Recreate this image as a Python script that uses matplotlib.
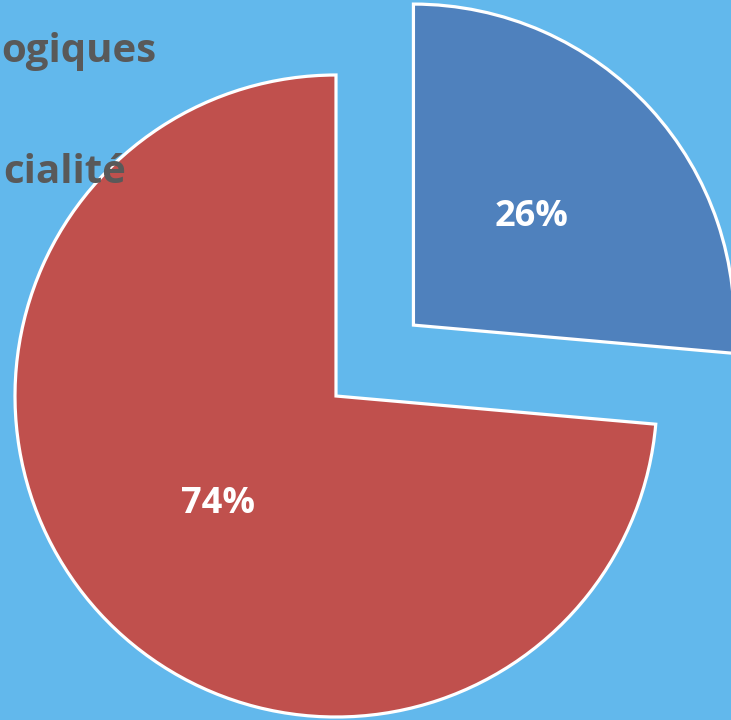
import matplotlib

matplotlib.use("Agg")
import matplotlib.pyplot as plt  # noqa: E402

# data
shares = [26.4, 73.6]
colors = ["#4f81bd", "#c0504d"]
explode = [105, 0]  # matplotlib shifts by this many data units
legend_fragments = ["ogiques", "cialité"]

BG = "#62b8ec"
W, H = 731, 720

fig = plt.figure(figsize=(W / 100, H / 100), dpi=100, facecolor=BG)
ax = fig.add_axes([0, 0, 1, 1])
ax.set_facecolor(BG)

# pixel-like data coords (y up); pie centre at (336, 396) from the top
wedges, _, autotexts = ax.pie(
    shares,
    colors=colors,
    explode=explode,
    startangle=90,
    counterclock=False,
    radius=321,
    center=(336, H - 396),
    autopct="%.0f%%",
    pctdistance=0.5,
    wedgeprops=dict(edgecolor="white", linewidth=2.3),
    textprops=dict(color="white", fontsize=26, fontweight="bold",
                   family=["Open Sans", "DejaVu Sans"]),
)
ax.set_xlim(0, W)
ax.set_ylim(0, H)
ax.set_aspect("equal")
ax.axis("off")

# legend text, cut off by the left edge of the picture in the original
for txt, (x, y) in zip(legend_fragments, [(156, 62), (126, 183)]):
    fig.text(x / W, 1 - y / H, txt, ha="right", va="baseline",
             fontsize=29, fontweight="bold", color="#595959",
             family=["Open Sans", "DejaVu Sans"])

fig.savefig("out.png", dpi=100, facecolor=BG)
